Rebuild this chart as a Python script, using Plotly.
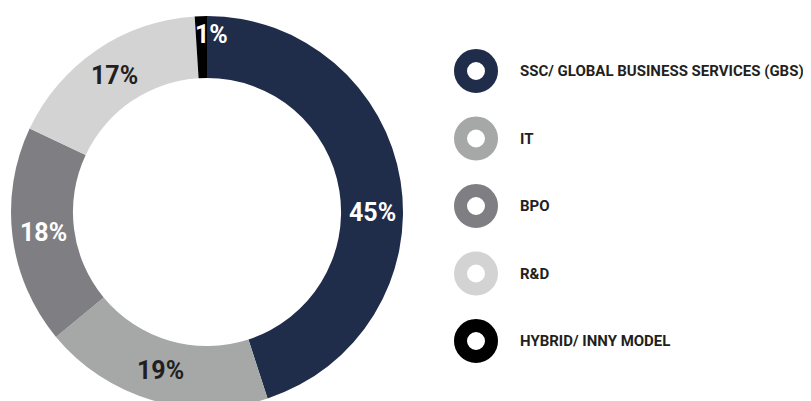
import math
import plotly.graph_objects as go

categories = ["SSC/ GLOBAL BUSINESS SERVICES (GBS)", "IT", "BPO", "R&D", "HYBRID/ INNY MODEL"]
values = [45, 19, 18, 17, 1]
label_texts = ["45%", "19%", "18%", "17%", "1%"]

colors = ["#1f2d4a", "#a6a8a7", "#7f7f83", "#d3d3d4", "#000000"]
label_colors = ["#ffffff", "#231f20", "#ffffff", "#231f20", "#ffffff"]
FONT = "Roboto, Liberation Sans, sans-serif"

W, H = 811, 401
OFF = 8  # page body margin offset
R_OUT = 196
HOLE = 0.684
CX, CY = 207 - OFF, 212 - OFF  # pixel centre in figure coords (from top-left)

fig = go.Figure()
fig.add_trace(go.Pie(
    values=values, labels=categories, sort=False, direction="clockwise",
    rotation=0, hole=HOLE, textinfo="none", hoverinfo="label+percent",
    marker=dict(colors=colors, line=dict(width=0)),
    domain=dict(x=[(CX - R_OUT) / W, (CX + R_OUT) / W],
                y=[(H - CY - R_OUT) / H, (H - CY + R_OUT) / H]),
    showlegend=False,
))

# percentage labels placed in the ring, at each slice's mid angle
# (a few labels nudged as in the original: angle in degrees, radius factor)
label_override = {0: (90, 1.0), 4: (1.5, 1.075)}
total = sum(values)
cum = 0
r_mid = R_OUT * (1 + HOLE) / 2
annotations = []
for i, v in enumerate(values):
    theta = (cum + v / 2) / total * 360
    cum += v
    rf = 1.0
    if i in label_override:
        theta, rf = label_override[i]
    xp = CX + rf * r_mid * math.sin(math.radians(theta))
    yp = CY - rf * r_mid * math.cos(math.radians(theta))
    annotations.append(dict(
        x=xp, y=yp, xref="x", yref="y", xanchor="center", yanchor="middle",
        text="<b>" + label_texts[i] + "</b>", showarrow=False,
        font=dict(family=FONT, size=25, color=label_colors[i]),
    ))

# custom legend with ring markers
LEG_X, LEG_Y0, LEG_DY = 476 - OFF, 71 - OFF, 67.5
leg_y = [LEG_Y0 + i * LEG_DY for i in range(len(categories))]
for i, cat in enumerate(categories):
    fig.add_trace(go.Scatter(
        x=[LEG_X], y=[leg_y[i]], mode="markers", xaxis="x", yaxis="y",
        marker=dict(symbol="circle-open", size=31, color=colors[i],
                    line=dict(width=13, color=colors[i])),
        showlegend=False, hoverinfo="skip",
    ))
    annotations.append(dict(
        x=518 - OFF, y=leg_y[i], xref="x", yref="y", xanchor="left", yanchor="middle",
        text="<b>" + cat + "</b>", showarrow=False,
        font=dict(family=FONT, size=15, color="#231f20"),
    ))

fig.update_layout(
    width=W, height=H, margin=dict(l=0, r=0, t=0, b=0),
    paper_bgcolor="white", plot_bgcolor="rgba(0,0,0,0)",
    xaxis=dict(range=[0, W], domain=[0, 1], visible=False, fixedrange=True),
    yaxis=dict(range=[H, 0], domain=[0, 1], visible=False, fixedrange=True),
    annotations=annotations,
)

fig.write_html("out.html")
